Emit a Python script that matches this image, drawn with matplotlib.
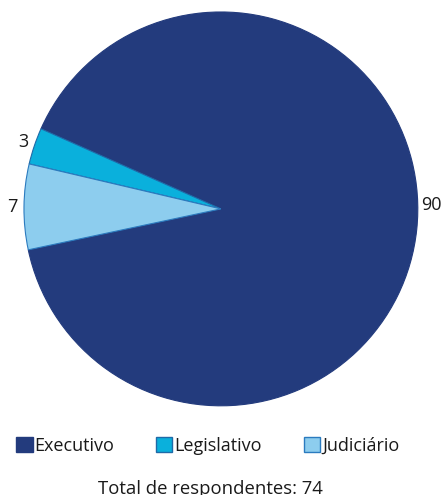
import matplotlib.pyplot as plt
from matplotlib.patches import Patch

plt.rcParams['font.family'] = ['Open Sans', 'DejaVu Sans']

categories = ["Executivo", "Legislativo", "Judiciário"]
values = [90, 3, 7]
colors = ["#233b7d", "#0ab0dc", "#8dcdee"]
edges = ["#233b7d", "#1f6aa8", "#2b7bbf"]
total = 74

fig = plt.figure(figsize=(4.44, 4.95), dpi=100)
ax = fig.add_axes([0.054, 0.18, 0.887, 0.796])

wedges, texts = ax.pie(values, labels=[str(v) for v in values], colors=colors,
                       startangle=192, counterclock=True, labeldistance=1.06,
                       textprops={"fontsize": 13, "color": "#1a1a1a"},
                       wedgeprops={"linewidth": 0.8})
for w, ec in zip(wedges, edges):
    w.set_edgecolor(ec)
for t in texts:
    t.set_ha("center")
texts[0].set_position((1.07, 0.02))
ax.set_aspect("equal")
ax.set_xlim(-1, 1)
ax.set_ylim(-1, 1)

handles = [Patch(facecolor=c, edgecolor=e, label=l) for c, e, l in zip(colors, edges, categories)]
fig.legend(handles=handles, loc="center", bbox_to_anchor=(0.468, 0.099), ncol=3,
           frameon=False, fontsize=13, handlelength=0.9, handleheight=0.9,
           handletextpad=0.12, columnspacing=2.3, labelcolor="#1a1a1a")

fig.text(0.473, 1 - 489 / 495, f"Total de respondentes: {total}", ha="center", va="center",
         fontsize=13.3, color="#1a1a1a")

fig.savefig("out.png", dpi=100)
